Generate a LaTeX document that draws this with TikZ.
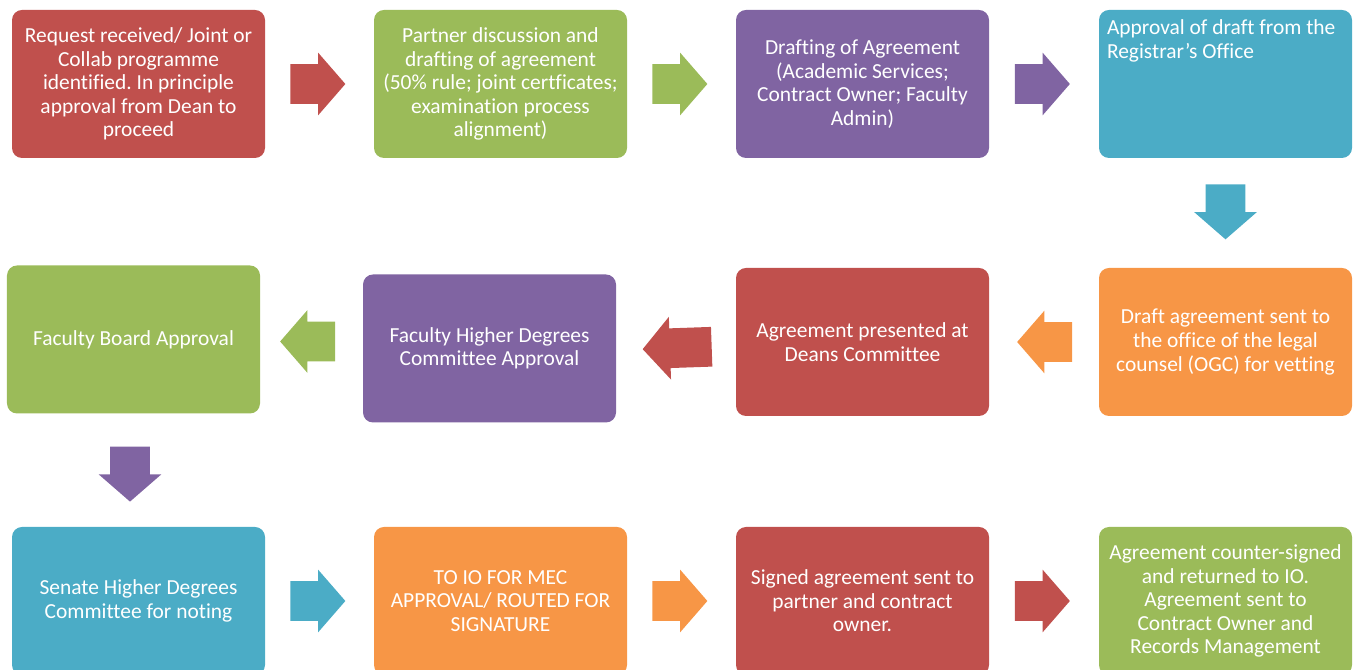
\documentclass[tikz,border=0pt]{standalone}
\usepackage{fontspec}
\setmainfont[Ligatures=NoCommon]{Carlito}
\usetikzlibrary{shapes.arrows, calc}
\frenchspacing

\definecolor{cred}{HTML}{C0504D}
\definecolor{cgreen}{HTML}{9BBB59}
\definecolor{cpurple}{HTML}{8064A2}
\definecolor{caqua}{HTML}{4BACC6}
\definecolor{corange}{HTML}{F79646}

\tikzstyle{stepbox} = [rectangle, rounded corners=0.2cm, minimum width=5.06cm, minimum height=2.96cm, inner sep=0pt, text=white, align=center, font=\fontsize{12.2}{13.4}\selectfont]
\tikzstyle{blockarrow} = [single arrow, anchor=tail, minimum height=1.1cm, inner xsep=0pt, inner ysep=0.39cm, single arrow head extend=0.23cm, single arrow tip angle=98]

\begin{document}
\begin{tikzpicture}
        \useasboundingbox (0,0) rectangle (27.22,13.4);

        %first row
        \node at (2.77,11.72) [stepbox, fill=cred] (b1) {Request received/ Joint or\\Collab programme\\identified. In principle\\approval from Dean to\\proceed};
        \node at (10.01,11.72) [stepbox, fill=cgreen] (b2) {Partner discussion and\\drafting of agreement\\(50\% rule; joint certficates;\\examination process\\alignment)};
        \node at (17.25,11.72) [stepbox, fill=cpurple] (b3) {Drafting of Agreement\\(Academic Services;\\Contract Owner; Faculty\\Admin)};
        \node at (24.51,11.72) [stepbox, fill=caqua, label={[anchor=north west, inner sep=0pt, xshift=0.16cm, yshift=-0.2cm, align=left, text=white, font=\fontsize{12.2}{13.4}\selectfont]north west:Approval of draft from the\\Registrar’s Office}] (b4) {};

        %second row
        \node at (24.51,6.56) [stepbox, fill=corange] (b5) {Draft agreement sent to\\the office of the legal\\counsel (OGC) for vetting};
        \node at (17.25,6.56) [stepbox, fill=cred] (b6) {Agreement presented at\\Deans Committee};
        \node at (9.79,6.43) [stepbox, fill=cpurple] (b7) {Faculty Higher Degrees\\Committee Approval};
        \node at (2.67,6.61) [stepbox, fill=cgreen] (b8) {Faculty Board Approval};

        %third row
        \node at (2.77,1.38) [stepbox, fill=caqua] (b9) {Senate Higher Degrees\\Committee for noting};
        \node at (10.01,1.38) [stepbox, fill=corange] (b10) {TO IO FOR MEC\\APPROVAL/ ROUTED FOR\\SIGNATURE};
        \node at (17.25,1.38) [stepbox, fill=cred] (b11) {Signed agreement sent to\\partner and contract\\owner.};
        \node at (24.51,1.38) [stepbox, fill=cgreen] (b12) {Agreement counter-signed\\and returned to IO.\\Agreement sent to\\Contract Owner and\\Records Management};

        %block arrows, placed by their tails
        \node at ($(b1.east)!0.5!(b2.west)+(-0.59,0)$) [blockarrow, fill=cred] (a1) {};
        \node at ($(b2.east)!0.5!(b3.west)+(-0.59,0)$) [blockarrow, fill=cgreen] (a2) {};
        \node at ($(b3.east)!0.5!(b4.west)+(-0.59,0)$) [blockarrow, fill=cpurple] (a3) {};
        \node at ($(b4.south)!0.5!(b5.north)+(0,0.58)$) [blockarrow, fill=caqua, rotate=-90] (a4) {};
        \node at ($(b5.west)!0.5!(b6.east)+(0.57,0)$) [blockarrow, fill=corange, rotate=180] (a5) {};
        \node at ($(b6.west)!0.5!(b7.east)+(0.72,-0.03)$) [blockarrow, fill=cred, rotate=182, minimum height=1.38cm] (a6) {};
        \node at ($(b7.west)!0.5!(b8.east)+(0.48,0.05)$) [blockarrow, fill=cgreen, rotate=180] (a7) {};
        \node at ($(b8.south)!0.5!(b9.north)+(-0.12,0.48)$) [blockarrow, fill=cpurple, rotate=-90] (a8) {};
        \node at ($(b9.east)!0.5!(b10.west)+(-0.59,0)$) [blockarrow, fill=caqua] (a9) {};
        \node at ($(b10.east)!0.5!(b11.west)+(-0.59,0)$) [blockarrow, fill=corange] (a10) {};
        \node at ($(b11.east)!0.5!(b12.west)+(-0.59,0)$) [blockarrow, fill=cred] (a11) {};

\end{tikzpicture}
\end{document}
